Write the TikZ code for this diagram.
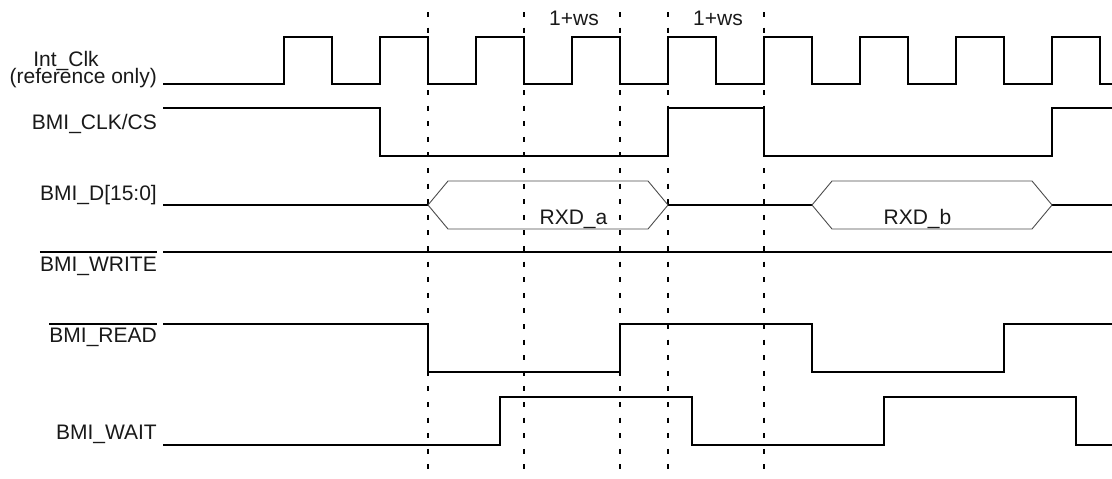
\documentclass[tikz,border=0pt]{standalone}
\usepackage{fontspec}
\setmainfont{Liberation Sans}
\begin{document}
\begin{tikzpicture}[x=1pt,y=-1pt,
  sig/.style={line width=2.2pt, line join=miter},
  bus/.style={line width=0.9pt, draw=black!70},
  guide/.style={line width=1.8pt, dash pattern=on 5pt off 10.6pt},
  lbl/.style={inner sep=0pt, font=\fontsize{21}{21}\selectfont, text=black!90},
  ovl/.style={line width=2pt}]
\useasboundingbox (0,0) rectangle (1112,479);

% guide lines
\foreach \gx/\gn in {428/ga,524/gb,620/gc,668/gd,764/ge}{
  \coordinate (\gn t) at (\gx,12);
  \coordinate (\gn b) at (\gx,479);
  \draw[guide] (\gn t) -- (\gn b);
}

% labels
\node[lbl, anchor=base] (lclk) at (66,66) {Int\_Clk};
\node[lbl, anchor=base east] (lref) at (157,83) {(reference only)};
\node[lbl, anchor=base east] (lcs) at (157,129) {BMI\_CLK/CS};
\node[lbl, anchor=base east] (ld) at (157,200) {BMI\_D[15:0]};
\node[lbl, anchor=base east] (lw) at (157,271) {BMI\_WRITE};
\node[lbl, anchor=base east] (lr) at (157,342) {BMI\_READ};
\node[lbl, anchor=base east] (lwait) at (157,439) {BMI\_WAIT};
\node[lbl, anchor=base] (ws1) at (574,25) {1+ws};
\node[lbl, anchor=base] (ws2) at (718,25) {1+ws};
\node[lbl, anchor=base] (rxa) at (573.5,224) {RXD\_a};
\node[lbl, anchor=base] (rxb) at (917.5,224) {RXD\_b};

% Int_Clk
\draw[sig] (163,84) -- (284,84)
  -- (284,37) -- (332,37) -- (332,84) -- (380,84)
  -- (380,37) -- (428,37) -- (428,84) -- (476,84)
  -- (476,37) -- (524,37) -- (524,84) -- (572,84)
  -- (572,37) -- (620,37) -- (620,84) -- (668,84)
  -- (668,37) -- (716,37) -- (716,84) -- (764,84)
  -- (764,37) -- (812,37) -- (812,84) -- (860,84)
  -- (860,37) -- (908,37) -- (908,84) -- (956,84)
  -- (956,37) -- (1004,37) -- (1004,84) -- (1052,84)
  -- (1052,37) -- (1100,37) -- (1100,84) -- (1112,84);

% BMI_CLK/CS
\draw[sig] (163,108) -- (380,108) -- (380,156) -- (668,156) -- (668,108)
  -- (764,108) -- (764,156) -- (1052,156) -- (1052,108) -- (1112,108);

% BMI_D
\coordinate (ha) at (428,205);
\coordinate (hae) at (668,205);
\coordinate (hb) at (812,205);
\coordinate (hbe) at (1052,205);
\draw[sig] (163,205) -- (ha);
\draw[sig] (hae) -- (hb);
\draw[sig] (hbe) -- (1112,205);
\draw[bus] (ha) -- (448,181) -- (648,181) -- (hae) -- (648,229) -- (448,229) -- cycle;
\draw[bus] (hb) -- (832,181) -- (1032,181) -- (hbe) -- (1032,229) -- (832,229) -- cycle;

% BMI_WRITE
\coordinate (w0) at (163,252);
\draw[sig] (w0) -- (1112,252);
\draw[ovl] (lw.west |- w0) -- (lw.east |- w0);

% BMI_READ
\coordinate (r0) at (163,324);
\draw[sig] (r0) -- (428,324) -- (428,372) -- (620,372) -- (620,324)
  -- (812,324) -- (812,372) -- (1004,372) -- (1004,324) -- (1112,324);
\draw[ovl] (lr.west |- r0) -- (lr.east |- r0);

% BMI_WAIT
\draw[sig] (163,445) -- (500,445) -- (500,397) -- (692,397) -- (692,445)
  -- (884,445) -- (884,397) -- (1076,397) -- (1076,445) -- (1112,445);
\end{tikzpicture}
\end{document}
